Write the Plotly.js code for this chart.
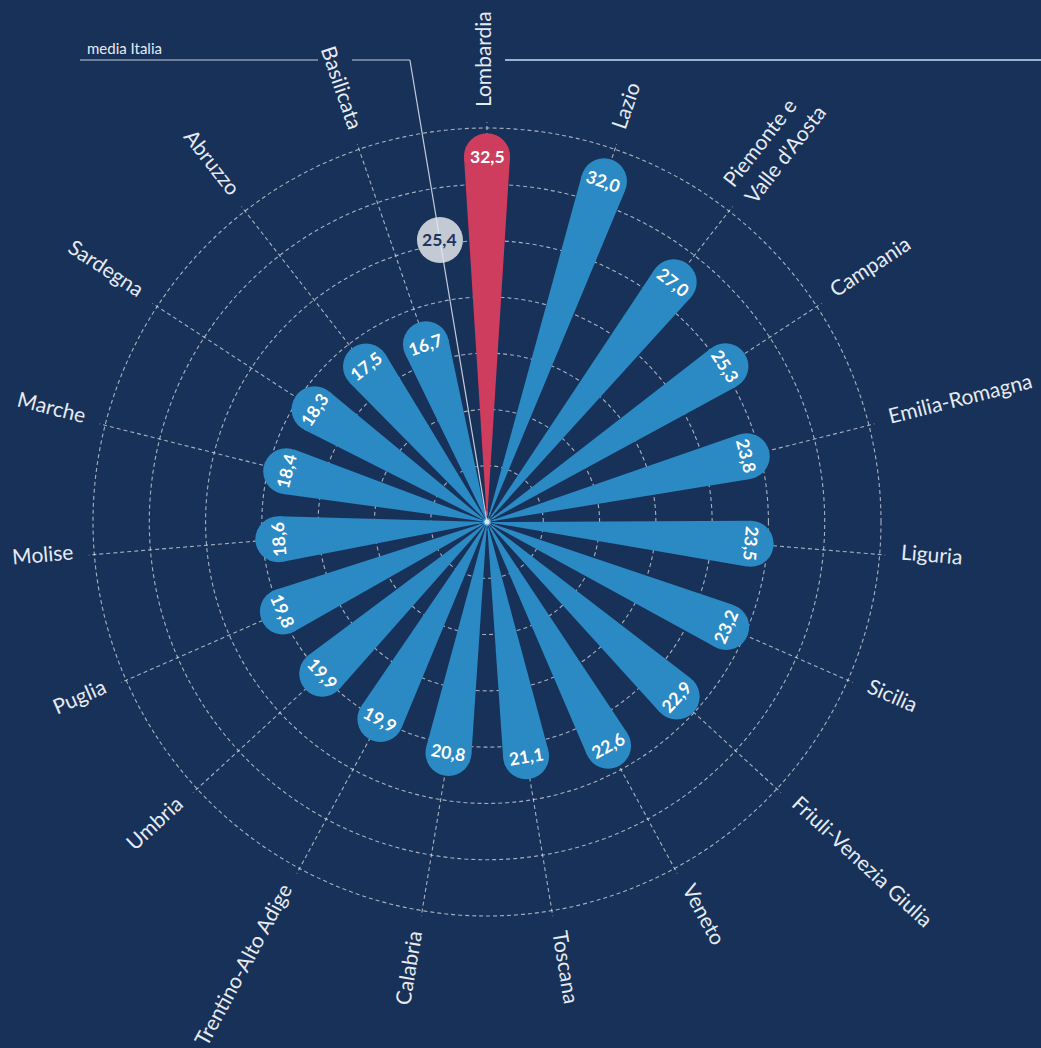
<!DOCTYPE html>
<html>
<head>
<meta charset="utf-8">
<script src="https://cdn.plot.ly/plotly-3.0.1.min.js"></script>
<style>
  html, body { margin:0; padding:0; background:#173158; }
  #chart { width:1041px; height:1048px; }
</style>
</head>
<body>
<div id="chart"></div>
<script>
// ---------------- DATA ----------------
const regions = ["Lombardia", "Lazio", "Piemonte e<br>Valle d'Aosta", "Campania", "Emilia-Romagna",
  "Liguria", "Sicilia", "Friuli-Venezia Giulia", "Veneto", "Toscana", "Calabria",
  "Trentino-Alto Adige", "Umbria", "Puglia", "Molise", "Marche", "Sardegna", "Abruzzo", "Basilicata"];
const values = [32.5, 32.0, 27.0, 25.3, 23.8, 23.5, 23.2, 22.9, 22.6, 21.1, 20.8,
  19.9, 19.9, 19.8, 18.6, 18.4, 18.3, 17.5, 16.7];
const highlight = "Lombardia";
const mediaItalia = 25.4;
const mediaLabel = "media Italia";
const radialTicks = [5, 10, 15, 20, 25, 30, 35];

// ---------------- LAYOUT GEOMETRY ----------------
const W = 1041, H = 1048;
const CX = 487, CY = 522;                 // polar centre in px
const PX_PER_UNIT = 394 / 35;             // 35 -> outer dashed circle at 394 px
const RMAX = 35.5;                        // axis range max (radial lines poke out a little)
const R = RMAX * PX_PER_UNIT;             // polar radius in px
const CAP_PX = 23;                        // half width of petal caps (px)
const h = CAP_PX / PX_PER_UNIT;           // same in data units
const BG = "#173158", BLUE = "#2b89c4", RED = "#cf3d5e";
const GRID = "rgba(255,255,255,0.62)";
const FONT = "Lato, 'Noto Sans', sans-serif";

const n = regions.length;
const step = 360 / n;
const thetas = regions.map((_, i) => i * step);

function px(rUnits) { return rUnits * PX_PER_UNIT; }
function toPaperXY(x, y) { return { x: x / W, y: 1 - y / H }; }
function polarXY(rpx, thDeg) {
  const t = thDeg * Math.PI / 180;
  return { x: CX + rpx * Math.sin(t), y: CY - rpx * Math.cos(t) };
}
const ctx = document.createElement("canvas").getContext("2d");
function textW(s, size, weight) {
  ctx.font = (weight || "normal") + " " + size + "px Lato";
  return Math.max(...s.split("<br>").map(l => ctx.measureText(l).width));
}
function fmt(v) { return v.toFixed(1).replace(".", ","); }

// petals: tapered wedge + round cap, tangent
const barR = values.map(v => Math.sqrt(v * v - h * h));
const barW = values.map(v => 2 * Math.asin(h / v) * 180 / Math.PI);
const colors = regions.map(r => r === highlight ? RED : BLUE);

const traces = [
  {
    type: "barpolar", r: barR, theta: thetas, width: barW, base: 0,
    marker: { color: colors, line: { width: 0 } }, hoverinfo: "skip", showlegend: false
  },
  {
    type: "scatterpolar", mode: "markers", r: values, theta: thetas,
    marker: { size: CAP_PX * 2, color: colors, line: { width: 0 } },
    hoverinfo: "skip", showlegend: false
  },
  {
    type: "scatterpolar", mode: "markers", r: [mediaItalia], theta: [360 - step / 2],
    marker: { size: CAP_PX * 2, color: "#c4cad4", line: { width: 0 } },
    hoverinfo: "skip", showlegend: false
  },
  {
    type: "scatterpolar", mode: "markers", r: [0], theta: [0],
    marker: { size: 5, color: "#cfe8f7" }, hoverinfo: "skip", showlegend: false
  }
];

// ---------------- ANNOTATIONS ----------------
const annotations = [];
const LABEL_SIZE = 21, LABEL_R0 = 415, LABEL_SHIFT = 5;
regions.forEach((name, i) => {
  const th = thetas[i];
  const w = textW(name, LABEL_SIZE);
  const ang = th < 180 ? th - 90 : th - 270;
  const a = ang * Math.PI / 180;
  const c = polarXY(LABEL_R0 + w / 2, th);
  const p = toPaperXY(c.x + LABEL_SHIFT * Math.sin(a), c.y - LABEL_SHIFT * Math.cos(a));
  annotations.push({
    xref: "paper", yref: "paper", x: p.x, y: p.y, text: name, showarrow: false,
    textangle: ang, xanchor: "center", yanchor: "middle", align: "left",
    font: { family: FONT, size: LABEL_SIZE, color: "#e6eaf1" }
  });
  // value label in cap
  const qc = polarXY(px(values[i]), th);
  const q = toPaperXY(qc.x, qc.y);
  let va = th;
  if (th > 100 && th < 260) va = th - 180;
  else if (th >= 260) va = th - 360;
  annotations.push({
    xref: "paper", yref: "paper", x: q.x, y: q.y, text: fmt(values[i]), showarrow: false,
    textangle: va, xanchor: "center", yanchor: "middle",
    font: { family: FONT, size: 17.5, color: "#ffffff", weight: 700 }
  });
});
// media label
const mth = 360 - step / 2;
const mc = polarXY(px(mediaItalia), mth);
const mp = toPaperXY(mc.x, mc.y);
annotations.push({
  xref: "paper", yref: "paper", x: mp.x, y: mp.y, text: fmt(mediaItalia), showarrow: false,
  xanchor: "center", yanchor: "middle",
  font: { family: FONT, size: 17.5, color: "#1c3461", weight: 700 }
});
annotations.push({
  xref: "paper", yref: "paper", x: 85 / W, y: 1 - 48 / H, text: mediaLabel, showarrow: false,
  xanchor: "left", yanchor: "middle",
  font: { family: FONT, size: 15, color: "#e6eaf1" }
});

// ---------------- DECORATIVE LINES ----------------
const LINE_Y = 60;
const cornerR = (CY - LINE_Y) / Math.cos(mth * Math.PI / 180);
const cc = polarXY(cornerR, mth);
const corner = toPaperXY(cc.x, cc.y);
const yP = 1 - LINE_Y / H;
const shapes = [
  { type: "line", xref: "paper", yref: "paper", x0: CX / W, y0: 1 - CY / H, x1: corner.x, y1: corner.y,
    line: { color: "rgba(225,232,242,0.85)", width: 1.2 }, layer: "above" },
  { type: "line", xref: "paper", yref: "paper", x0: 352 / W, y0: yP, x1: corner.x, y1: yP,
    line: { color: "rgba(225,232,242,0.85)", width: 1.2 } },
  { type: "line", xref: "paper", yref: "paper", x0: 80 / W, y0: yP, x1: 318 / W, y1: yP,
    line: { color: "rgba(225,232,242,0.85)", width: 1.2 } },
  { type: "line", xref: "paper", yref: "paper", x0: 505 / W, y0: yP, x1: 1, y1: yP,
    line: { color: "#9db2cf", width: 2 } }
];

const layout = {
  width: W, height: H,
  paper_bgcolor: BG, plot_bgcolor: BG,
  margin: { l: 0, r: 0, t: 0, b: 0 },
  showlegend: false,
  polar: {
    domain: { x: [(CX - R) / W, (CX + R) / W], y: [(H - CY - R) / H, (H - CY + R) / H] },
    bgcolor: "rgba(0,0,0,0)",
    bargap: 0,
    radialaxis: {
      range: [0, RMAX], tickvals: radialTicks, showticklabels: false, ticks: "",
      showline: false, showgrid: true, gridcolor: GRID, gridwidth: 1.1, griddash: "4px,3px",
      layer: "above traces"
    },
    angularaxis: {
      type: "linear", thetaunit: "degrees", rotation: 90, direction: "clockwise",
      tickmode: "array", tickvals: thetas, showticklabels: false, ticks: "",
      showline: false, showgrid: true, gridcolor: GRID, gridwidth: 1.1, griddash: "4px,3px",
      layer: "above traces"
    }
  },
  annotations: annotations,
  shapes: shapes
};

Plotly.newPlot("chart", traces, layout, { displayModeBar: false, staticPlot: true });
</script>
</body>
</html>
